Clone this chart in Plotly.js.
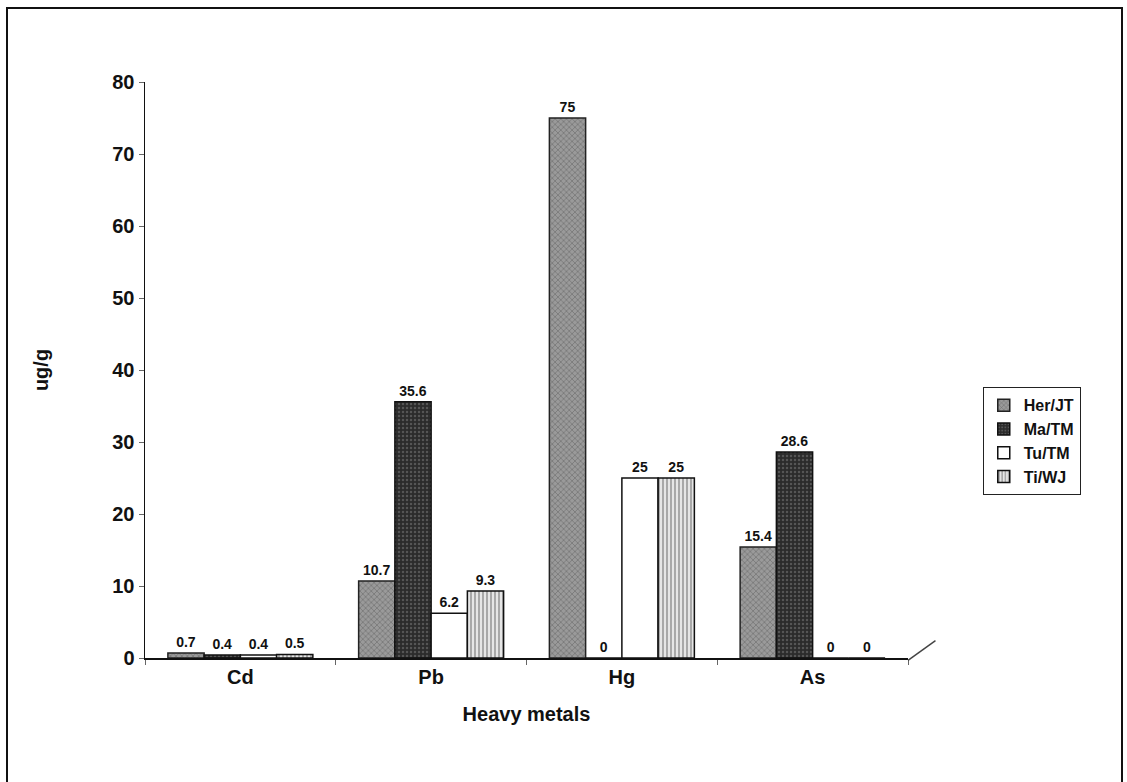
<!DOCTYPE html>
<html>
<head>
<meta charset="utf-8">
<script src="https://cdn.plot.ly/plotly-3.0.1.min.js"></script>
<style>
  html, body { margin: 0; padding: 0; background: #fff; }
  #frame { position: absolute; left: 6px; top: 7px; width: 1113px; height: 800px;
           border-left: 2px solid #111; border-top: 2px solid #111; border-right: 2px solid #111; }
  #chart { position: absolute; left: 0; top: 0; width: 1127px; height: 782px; }
</style>
</head>
<body>
<div id="frame"></div>
<div id="chart"></div>
<script>
const categories = ["Cd", "Pb", "Hg", "As"];
const seriesNames = ["Her/JT", "Ma/TM", "Tu/TM", "Ti/WJ"];
const herJT = [0.7, 10.7, 75, 15.4];
const maTM  = [0.4, 35.6, 0, 28.6];
const tuTM  = [0.4, 6.2, 25, 0];
const tiWJ  = [0.5, 9.3, 25, 0];
const yTicks = [0, 10, 20, 30, 40, 50, 60, 70, 80];

const FONT = "Liberation Sans, Arial, Helvetica, sans-serif";

const styles = [
  { color: "#8e8e8e", line: "#222", pattern: { shape: "x", fgcolor: "#6e6e6e", bgcolor: "#9a9a9a", size: 4, solidity: 0.3 } },
  { color: "#2b2b2b", line: "#111", pattern: { shape: ".", fgcolor: "#555", bgcolor: "#2b2b2b", size: 4, solidity: 0.3 } },
  { color: "#ffffff", line: "#111", pattern: { shape: "" } },
  { color: "#d0d0d0", line: "#111", pattern: { shape: "|", fgcolor: "#999", bgcolor: "#e6e6e6", size: 4, solidity: 0.4 } }
];
const allValues = [herJT, maTM, tuTM, tiWJ];

const traces = allValues.map((vals, i) => ({
  type: "bar",
  name: seriesNames[i],
  x: categories,
  y: vals,
  text: vals.map(v => String(v)),
  textposition: "outside",
  textfont: { family: FONT, size: 14, color: "#111", weight: "bold" },
  cliponaxis: false,
  marker: {
    color: styles[i].color,
    line: { color: styles[i].line, width: 1.5 },
    pattern: styles[i].pattern
  },
  hoverinfo: "x+y+name"
}));

const layout = {
  width: 1127,
  height: 782,
  paper_bgcolor: "rgba(0,0,0,0)",
  plot_bgcolor: "rgba(0,0,0,0)",
  margin: { l: 145, r: 219, t: 82, b: 124 },
  barmode: "group",
  bargap: 0.24,
  bargroupgap: 0,
  font: { family: FONT, color: "#111" },
  showlegend: true,
  legend: {
    x: 1.098, y: 0.47, xanchor: "left", yanchor: "top",
    bordercolor: "#222", borderwidth: 1, bgcolor: "#fff",
    font: { family: FONT, size: 16, color: "#111", weight: "bold" },
    itemwidth: 30, tracegroupgap: 0, entrywidth: 125
  },
  xaxis: {
    type: "category",
    showline: true, linecolor: "#111", linewidth: 1.5,
    ticks: "outside", tickson: "boundaries", ticklen: 5, tickcolor: "#666",
    tickfont: { family: FONT, size: 20, color: "#111", weight: "bold" },
    title: { text: "Heavy metals", font: { family: FONT, size: 20, color: "#111", weight: "bold" }, standoff: 20 },
    showgrid: false, zeroline: false
  },
  yaxis: {
    range: [0, 80],
    tickvals: yTicks,
    showline: true, linecolor: "#111", linewidth: 1.5,
    ticks: "outside", ticklen: 5, tickcolor: "#666",
    tickfont: { family: FONT, size: 20, color: "#111", weight: "bold" },
    title: { text: "ug/g", font: { family: FONT, size: 20, color: "#111", weight: "bold" }, standoff: 58 },
    showgrid: false, zeroline: false
  },
  shapes: [
    { type: "line", xref: "paper", yref: "paper", x0: 1.0, y0: -0.004, x1: 1.036, y1: 0.03,
      line: { color: "#444", width: 1.5 } }
  ]
};

Plotly.newPlot("chart", traces, layout, { displayModeBar: false, staticPlot: true });
</script>
</body>
</html>
